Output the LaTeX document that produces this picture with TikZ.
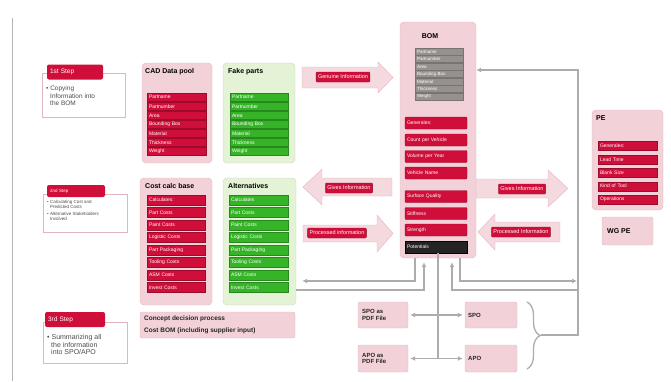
\documentclass[tikz,border=0pt]{standalone}
\usepackage{fontspec}
\setmainfont{Liberation Sans}
\usetikzlibrary{arrows.meta,decorations.pathreplacing}
\definecolor{rojo}{RGB}{208,14,58}
\definecolor{rosa}{RGB}{242,210,216}
\definecolor{borde}{RGB}{224,182,192}
\definecolor{verde}{RGB}{228,243,214}
\definecolor{verdeoscuro}{RGB}{54,180,40}
\definecolor{gris}{RGB}{150,145,142}
\definecolor{lineagris}{RGB}{172,172,172}
\definecolor{negro}{RGB}{36,36,36}

\begin{document}
\begin{tikzpicture}[
    x=1pt, y=-1pt,
    >={Latex[length=5pt,width=5pt]},
    every node/.style={font=\fontsize{5}{6}\selectfont, inner sep=0pt},
    grupo/.style={draw=borde, fill=rosa, rounded corners=4pt},
    grupoverde/.style={draw=verde!75!gray, fill=verde, rounded corners=4pt},
    caja/.style={draw=borde, fill=rosa, rounded corners=2pt},
    titulo/.style={font=\fontsize{7}{8}\selectfont\bfseries, anchor=west},
    barra/.style={draw=rojo!75!black, fill=rojo, text=white, inner xsep=2pt, minimum height=8pt, text width=#1, align=left},
    barraverde/.style={barra=#1, draw=verdeoscuro!75!black, fill=verdeoscuro},
    barragris/.style={barra=#1, draw=gris!80!black, fill=gris, font=\fontsize{4.5}{5}\selectfont},
    etiqueta/.style={draw=rojo!70!black, fill=rojo, text=white, rounded corners=1pt, inner xsep=2pt, minimum height=10pt, font=\fontsize{5.5}{6}\selectfont},
    flecha/.style={draw=borde, fill=rosa!85},
    nota/.style={draw=borde, fill=white, line width=0.8pt},
    pestana/.style={fill=rojo, text=white, rounded corners=2pt, inner xsep=3pt, text width=#1, align=left, font=\fontsize{6.5}{7}\selectfont},
    texto/.style={anchor=north west, align=left, text=gray!60!black, font=\fontsize{6.5}{7.5}\selectfont},
    linea/.style={draw=lineagris, line width=1.3pt}
]
\useasboundingbox (0,0) rectangle (671,381);
% Marco
\draw[gris!70, line width=0.8pt] (12,18) -- (12,381);
% Pasos
\node[nota, minimum width=83pt, minimum height=44pt] (nota1) at (83.5,95) {};
\node[texto] (texto1) at (46,86) {\textbullet~Copying\\\hspace*{4pt}Information into\\\hspace*{4pt}the BOM};
\node[pestana=50pt, minimum height=15pt] (paso1) at (75,72) {1st Step};
\node[nota, minimum width=84pt, minimum height=38pt] (nota2) at (85,213) {};
\node[texto, font=\fontsize{4.5}{5}\selectfont] (texto2) at (47,200) {\textbullet~Calculating Cost and\\\hspace*{3pt}Predicted Costs\\[2pt]\textbullet~Alternative Stakeholders\\\hspace*{3pt}Involved};
\node[pestana=52pt, minimum height=12pt, font=\fontsize{4.5}{5}\selectfont] (paso2) at (76,191) {2nd Step};
\node[nota, minimum width=84pt, minimum height=41pt] (nota3) at (85,342.5) {};
\node[texto, font=\fontsize{7}{7.8}\selectfont] (texto3) at (47,334) {\textbullet~Summarizing all\\\hspace*{4pt}the information\\\hspace*{4pt}into SPO/APO};
\node[pestana=54pt, minimum height=15pt] (paso3) at (75,319.5) {3rd Step};
% CAD Data pool
\node[grupo, minimum width=70pt, minimum height=100pt] (cad) at (177,113) {};
\node[titulo] at (145,72) {CAD Data pool};
\node[barra=55pt] (cad1) at (176.5,97.2) {Partname};
\node[barra=55pt] (cad2) at (176.5,106.3) {Partnumber};
\node[barra=55pt] (cad3) at (176.5,115.3) {Area};
\node[barra=55pt] (cad4) at (176.5,124.4) {Bounding Box};
\node[barra=55pt] (cad5) at (176.5,133.4) {Material};
\node[barra=55pt] (cad6) at (176.5,142.5) {Thickness};
\node[barra=55pt] (cad7) at (176.5,151.5) {Weight};
% Fake parts
\node[grupoverde, minimum width=72pt, minimum height=100pt] (fake) at (259,113) {};
\node[titulo] at (228,72) {Fake parts};
\node[barraverde=54pt] (fake1) at (259,97.2) {Partname};
\node[barraverde=54pt] (fake2) at (259,106.3) {Partnumber};
\node[barraverde=54pt] (fake3) at (259,115.3) {Area};
\node[barraverde=54pt] (fake4) at (259,124.4) {Bounding Box};
\node[barraverde=54pt] (fake5) at (259,133.4) {Material};
\node[barraverde=54pt] (fake6) at (259,142.5) {Thickness};
\node[barraverde=54pt] (fake7) at (259,151.5) {Weight};
% Cost calc base
\node[grupo, minimum width=72pt, minimum height=127pt] (costos) at (176,241.5) {};
\node[titulo] at (145,186) {Cost calc base};
\node[barra=54pt, minimum height=10pt] (costo1) at (176,200) {Calculates:};
\node[barra=54pt, minimum height=10pt] (costo2) at (176,212.5) {Part Costs};
\node[barra=54pt, minimum height=10pt] (costo3) at (176,225) {Paint Costs};
\node[barra=54pt, minimum height=10pt] (costo4) at (176,237.5) {Logistic Costs};
\node[barra=54pt, minimum height=10pt] (costo5) at (176,250) {Part Packaging};
\node[barra=54pt, minimum height=10pt] (costo6) at (176,262.5) {Tooling Costs};
\node[barra=54pt, minimum height=10pt] (costo7) at (176,275) {ASM Costs};
\node[barra=54pt, minimum height=10pt] (costo8) at (176,287.5) {Invest Costs};
% Alternatives
\node[grupoverde, minimum width=73pt, minimum height=127pt] (alternativas) at (259.5,241.5) {};
\node[titulo] at (228,186) {Alternatives};
\node[barraverde=55pt, minimum height=10pt] (alt1) at (258.5,200) {Calculates};
\node[barraverde=55pt, minimum height=10pt] (alt2) at (258.5,212.5) {Part Costs};
\node[barraverde=55pt, minimum height=10pt] (alt3) at (258.5,225) {Paint Costs};
\node[barraverde=55pt, minimum height=10pt] (alt4) at (258.5,237.5) {Logistic Costs};
\node[barraverde=55pt, minimum height=10pt] (alt5) at (258.5,250) {Part Packaging};
\node[barraverde=55pt, minimum height=10pt] (alt6) at (258.5,262.5) {Tooling Costs};
\node[barraverde=55pt, minimum height=10pt] (alt7) at (258.5,275) {ASM Costs};
\node[barraverde=55pt, minimum height=10pt] (alt8) at (258.5,287.5) {Invest Costs};
% Concept decision
\node[caja, minimum width=155pt, minimum height=26pt] (concepto) at (217.5,325) {};
\node[anchor=west, align=left, font=\fontsize{6.5}{12}\selectfont\bfseries, text=negro] at (144,325) {Concept decision process\\Cost BOM (including supplier input)};
% Flechas grandes
\draw[flecha] (302,67) -- (378,67) -- (378,62) -- (393,77.5) -- (378,93) -- (378,88) -- (302,88) -- cycle;
\draw[flecha] (392,178) -- (322,178) -- (322,169) -- (303,187) -- (322,205) -- (322,196) -- (392,196) -- cycle;
\draw[flecha] (303,225) -- (377,225) -- (377,215) -- (393,233.5) -- (377,252) -- (377,242) -- (303,242) -- cycle;
\draw[flecha] (470,179) -- (548,179) -- (548,170) -- (568,188.5) -- (548,207) -- (548,198) -- (470,198) -- cycle;
\draw[flecha] (560,222) -- (495,222) -- (495,214) -- (478,232) -- (495,250) -- (495,242) -- (560,242) -- cycle;
\node[etiqueta] (genuina) at (343,77) {Genuine Information};
\node[etiqueta] (da1) at (349,188) {Gives Information};
\node[etiqueta] (procesada1) at (337,233) {Processed information};
\node[etiqueta] (da2) at (522,189) {Gives Information};
\node[etiqueta] (procesada2) at (521,232) {Processed Information};
% BOM
\node[grupo, minimum width=76pt, minimum height=236pt] (bom) at (438,140) {};
\node[titulo, anchor=center] at (430,36) {BOM};
\node[barragris=44pt, minimum height=7pt] (gris1) at (439,51.7) {Partname};
\node[barragris=44pt, minimum height=7pt] (gris2) at (439,59.1) {Partnumber};
\node[barragris=44pt, minimum height=7pt] (gris3) at (439,66.6) {Area};
\node[barragris=44pt, minimum height=7pt] (gris4) at (439,74.0) {Bounding Box};
\node[barragris=44pt, minimum height=7pt] (gris5) at (439,81.4) {Material};
\node[barragris=44pt, minimum height=7pt] (gris6) at (439,88.9) {Thickness};
\node[barragris=44pt, minimum height=7pt] (gris7) at (439,96.3) {Weight};
\node[barra=58pt, minimum height=12pt, rounded corners=1pt] (bom1) at (436,123) {Generales:};
\node[barra=58pt, minimum height=12pt, rounded corners=1pt] (bom2) at (436,140) {Count per Vehicle};
\node[barra=58pt, minimum height=12pt, rounded corners=1pt] (bom3) at (436,156.5) {Volume per Year};
\node[barra=58pt, minimum height=12pt, rounded corners=1pt] (bom4) at (436,173) {Vehicle Name};
\node[barra=58pt, minimum height=12pt, rounded corners=1pt] (bom5) at (436,196.5) {Surface Quality};
\node[barra=58pt, minimum height=12pt, rounded corners=1pt] (bom6) at (436,213.5) {Stiffness};
\node[barra=58pt, minimum height=12pt, rounded corners=1pt] (bom7) at (436,230) {Strength};
\node[barra=58pt, minimum height=12pt, draw=black, fill=negro] (bom8) at (436,247) {Potentials};
% PE
\node[grupo, minimum width=71pt, minimum height=100pt] (pe) at (627.5,160) {};
\node[titulo] at (596,118) {PE};
\node[barra=55pt, minimum height=9pt] (pe1) at (627.5,146) {Generales:};
\node[barra=55pt, minimum height=9pt] (pe2) at (627.5,159.4) {Lead Time};
\node[barra=55pt, minimum height=9pt] (pe3) at (627.5,172.8) {Blank Size};
\node[barra=55pt, minimum height=9pt] (pe4) at (627.5,186.2) {Kind of Tool};
\node[barra=55pt, minimum height=9pt] (pe5) at (627.5,199.6) {Operations};
\node[caja, minimum width=51pt, minimum height=28pt] (wgpe) at (627.5,231) {};
\node[titulo] at (607,231) {WG PE};
% SPO / APO
\node[caja, minimum width=50pt, minimum height=26pt] (spopdf) at (383,315) {};
\node[anchor=west, align=left, font=\fontsize{6}{6.5}\selectfont\bfseries, text=negro] at (362,315) {SPO as\\PDF File};
\node[caja, minimum width=52pt, minimum height=26pt] (spo) at (491,315) {};
\node[anchor=west, font=\fontsize{6}{6.5}\selectfont\bfseries, text=negro] at (468,315) {SPO};
\node[caja, minimum width=50pt, minimum height=27pt] (apopdf) at (383,358.5) {};
\node[anchor=west, align=left, font=\fontsize{6}{6.5}\selectfont\bfseries, text=negro] at (362,358.5) {APO as\\PDF File};
\node[caja, minimum width=52pt, minimum height=27pt] (apo) at (491,358.5) {};
\node[anchor=west, font=\fontsize{6}{6.5}\selectfont\bfseries, text=negro] at (468,358.5) {APO};
% Conexiones
\coordinate (bajada) at (577,281);
\coordinate (subida) at (578,290);
\coordinate (punta) at (541,335);
\coordinate (esquina) at (578,70);
\draw[linea] (bom8.south -| bom.south) -- (bom.south |- apo.west);
\draw[linea, <->, shorten <=2pt, shorten >=2pt] (spopdf.east) -- (spo.west);
\draw[linea, <->, shorten <=2pt, shorten >=2pt] (apopdf.east) -- (apo.west);
\draw[linea, ->, shorten >=6pt] ([xshift=-23pt]bom.south) |- (alternativas.east |- 0,281);
\draw[linea, ->, shorten >=4pt] (alternativas.east |- 0,290) -| ([xshift=-14pt]bom.south);
\draw[linea, ->] ([xshift=22pt]bom.south) |- (bajada);
\draw[linea, ->, shorten >=4pt] (subida) -| ([xshift=14pt]bom.south);
\draw[linea, decorate, decoration={brace, amplitude=13pt}] (527,302) -- (527,369);
\draw[linea, ->] (punta) -| (esquina) -- (bom.east |- esquina);
\end{tikzpicture}
\end{document}
